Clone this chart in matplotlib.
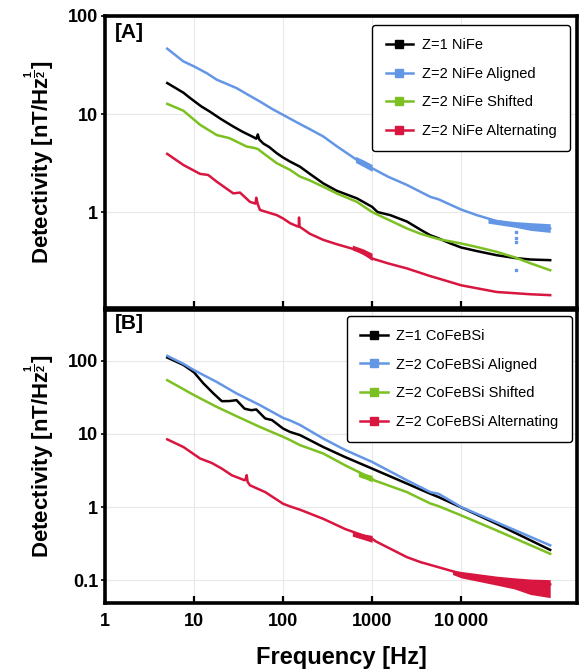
import matplotlib
matplotlib.use("Agg")
import matplotlib.pyplot as plt
from matplotlib.lines import Line2D
from matplotlib.ticker import FixedLocator, FuncFormatter, NullLocator

plt.rcParams['font.family'] = ['Liberation Sans', 'DejaVu Sans']
plt.rcParams['mathtext.fontset'] = 'custom'
plt.rcParams['mathtext.rm'] = 'Liberation Sans'
plt.rcParams['mathtext.bf'] = 'Liberation Sans:bold'

# ---------------- data: panel A (NiFe) ----------------
a_black_f = [5, 7.6, 9, 12, 15, 20, 27.6, 35, 45, 50, 52, 54, 60, 70, 85, 100, 120, 155, 200, 283, 400, 675, 1000, 1150,
             1600, 2460, 3500, 4500, 5560, 7500, 10000, 15000, 25000, 40000, 60000, 100000]
a_black_v = [20.7, 16.5, 14.6, 12.0, 10.6, 8.9, 7.45, 6.6, 5.9, 5.6, 6.2, 5.5, 5.0, 4.6, 3.98, 3.6, 3.27, 2.9, 2.45, 1.96,
             1.65, 1.38, 1.13, 1.0, 0.93, 0.80, 0.66, 0.58, 0.54, 0.48, 0.435, 0.40, 0.363, 0.34, 0.328, 0.323]

a_blue_f = [5, 7.6, 10, 14, 18, 30, 40, 55, 75, 100, 155, 200, 283, 400, 675, 1000, 1500, 2460, 4500, 5560, 10000,
            15000, 25000, 40000, 60000, 100000]
a_blue_v = [46.4, 34.4, 30.6, 26.0, 22.4, 18.4, 15.8, 13.4, 11.3, 9.8, 7.9, 7.0, 5.9, 4.7, 3.4, 2.8, 2.3, 1.89, 1.43,
            1.35, 1.06, 0.93, 0.81, 0.75, 0.72, 0.68]
a_blue_drop_f = [41500, 41500, 41500, 41500]
a_blue_drop_v = [0.63, 0.55, 0.50, 0.255]

a_green_f = [5, 7.6, 11.7, 18, 25, 39, 48, 52, 60, 85, 120, 155, 200, 283, 400, 675, 1000, 1500, 2460, 3500, 4500,
             5560, 10000, 15000, 25000, 40000, 60000, 100000]
a_green_v = [12.7, 10.8, 7.76, 6.1, 5.67, 4.66, 4.5, 4.4, 3.98, 3.15, 2.69, 2.3, 2.1, 1.81, 1.55, 1.27, 1.0, 0.84, 0.68,
             0.60, 0.56, 0.53, 0.478, 0.44, 0.393, 0.345, 0.30, 0.255]

a_red_f = [5, 7.6, 11.7, 14.4, 18, 27.6, 32.8, 42.5, 49, 50, 52, 55, 85, 100, 120, 142, 150, 151, 153, 200, 283, 400,
           675, 1000, 1500, 2460, 4500, 5560, 10000, 25000, 60000, 100000]
a_red_v = [3.92, 3.02, 2.45, 2.39, 2.04, 1.55, 1.58, 1.27, 1.22, 1.4, 1.2, 1.05, 0.93, 0.86, 0.77, 0.72, 0.71, 0.88,
           0.71, 0.6, 0.52, 0.47, 0.41, 0.336, 0.30, 0.266, 0.222, 0.21, 0.179, 0.153, 0.145, 0.142]

# noisy stretches of the spectra (band envelopes)
a_blue_band_f = [650, 800, 1000]
a_blue_band_lo = [3.2, 2.9, 2.6]
a_blue_band_hi = [3.7, 3.4, 3.05]
a_blue_hf_f = [20000, 40000, 60000, 100000]
a_blue_hf_lo = [0.77, 0.70, 0.65, 0.62]
a_blue_hf_hi = [0.86, 0.80, 0.78, 0.76]
a_red_band_f = [600, 800, 1000]
a_red_band_lo = [0.41, 0.37, 0.32]
a_red_band_hi = [0.46, 0.42, 0.38]

# ---------------- data: panel B (CoFeBSi) ----------------
b_black_f = [5, 7.6, 10, 12.7, 16.5, 20.5, 25, 30, 37, 44, 50, 63, 75, 100, 120, 155, 283, 500, 1000, 2460, 4500,
             5560, 10000, 25000, 100000]
b_black_v = [110, 87, 69, 49, 35.6, 27.9, 28, 28.8, 22, 21, 21.5, 16.2, 15.4, 11.8, 10.6, 9.6, 6.6, 4.8, 3.35, 2.09,
             1.52, 1.37, 0.99, 0.59, 0.26]

b_blue_f = [5, 7.6, 10, 18, 30, 55, 100, 120, 155, 283, 500, 1000, 2460, 4500, 5560, 10000, 25000, 100000]
b_blue_v = [116, 90, 74, 51, 35.6, 24.6, 16.5, 15.2, 13.2, 8.6, 6.0, 4.13, 2.32, 1.6, 1.52, 1.0, 0.62, 0.30]

b_green_f = [5, 10, 18, 30, 55, 100, 120, 155, 283, 500, 1000, 1050, 2460, 4500, 5560, 10000, 25000, 100000]
b_green_v = [54, 33.7, 23.3, 17.4, 12.4, 9.1, 8.2, 7.0, 5.38, 3.7, 2.45, 2.32, 1.6, 1.12, 1.03, 0.77, 0.48, 0.23]

b_red_f = [5, 7.6, 11.7, 15.8, 20.5, 26.5, 37, 38, 39, 40, 42.5, 63, 100, 120, 155, 283, 500, 1000, 1100, 2460, 3500,
           5560, 10000, 25000, 60000, 100000]
b_red_v = [8.4, 6.6, 4.6, 4.0, 3.35, 2.72, 2.32, 2.4, 2.72, 2.2, 1.98, 1.6, 1.11, 1.02, 0.92, 0.69, 0.5, 0.37, 0.34,
           0.207, 0.177, 0.151, 0.123, 0.1, 0.09, 0.088]

b_green_band_f = [700, 850, 1000]
b_green_band_lo = [2.6, 2.4, 2.2]
b_green_band_hi = [3.1, 2.85, 2.7]
b_red_band_f = [600, 800, 1000]
b_red_band_lo = [0.40, 0.36, 0.33]
b_red_band_hi = [0.47, 0.43, 0.41]
b_red_hf_f = [8000, 10000, 25000, 40000, 60000, 100000]
b_red_hf_lo = [0.12, 0.108, 0.086, 0.076, 0.064, 0.058]
b_red_hf_hi = [0.138, 0.132, 0.114, 0.108, 0.104, 0.102]

labels_a = ["Z=1 NiFe", "Z=2 NiFe Aligned", "Z=2 NiFe Shifted", "Z=2 NiFe Alternating"]
labels_b = ["Z=1 CoFeBSi", "Z=2 CoFeBSi Aligned", "Z=2 CoFeBSi Shifted", "Z=2 CoFeBSi Alternating"]

x_ticks = [1, 10, 100, 1000, 10000]
y_ticks_a = [1, 10, 100]
y_ticks_b = [0.1, 1, 10, 100]

C_BLACK = "#000000"
C_BLUE = "#6496e6"
C_GREEN = "#7cc021"
C_RED = "#d8163f"
colors = [C_BLACK, C_BLUE, C_GREEN, C_RED]

W, H = 579, 671
fig = plt.figure(figsize=(W / 100, H / 100), dpi=100)
L, R = 105 / W, 577 / W
ax_a = fig.add_axes([L, 1 - 308 / H, R - L, (308 - 16) / H])
ax_b = fig.add_axes([L, 1 - 603 / H, R - L, (603 - 310) / H])

LW = 1.8


def fmt_num(v, _pos=None):
    if v >= 10000:
        return f"{int(round(v)):,}".replace(",", "\u2009")
    if v >= 1:
        return f"{int(round(v))}"
    return f"{v:g}"


def style(ax, yticks, ylim, show_xlabels):
    ax.set_xscale("log")
    ax.set_yscale("log")
    ax.set_xlim(1, 2.0e5)
    ax.set_ylim(*ylim)
    ax.xaxis.set_major_locator(FixedLocator(x_ticks))
    ax.xaxis.set_minor_locator(NullLocator())
    ax.yaxis.set_major_locator(FixedLocator(yticks))
    ax.yaxis.set_minor_locator(NullLocator())
    ax.yaxis.set_major_formatter(FuncFormatter(fmt_num))
    if show_xlabels:
        ax.xaxis.set_major_formatter(FuncFormatter(fmt_num))
    else:
        ax.set_xticklabels([])
    ax.grid(True, color="#e8e8e8", lw=0.8, zorder=0)
    ax.set_axisbelow(True)
    for sp in ax.spines.values():
        sp.set_linewidth(2.6)
        sp.set_color("black")
    ax.tick_params(axis="x", direction="in", length=5, width=1.6, pad=7, top=False)
    ax.tick_params(axis="y", direction="out", length=3, width=1.2, pad=2)
    for t in ax.get_xticklabels() + ax.get_yticklabels():
        t.set_fontsize(13)
        t.set_fontweight("bold")
    ax.set_ylabel(r"Detectivity [nT/Hz$^{\mathbf{\frac{1}{2}}}$]", fontsize=16, fontweight="bold", labelpad=8)


# panel A curves
for f, v, c in [(a_black_f, a_black_v, C_BLACK), (a_blue_f, a_blue_v, C_BLUE),
                (a_green_f, a_green_v, C_GREEN), (a_red_f, a_red_v, C_RED)]:
    ax_a.plot(f, v, color=c, lw=LW, zorder=3)
ax_a.fill_between(a_blue_band_f, a_blue_band_lo, a_blue_band_hi, color=C_BLUE, lw=0, zorder=3)
ax_a.fill_between(a_blue_hf_f, a_blue_hf_lo, a_blue_hf_hi, color=C_BLUE, lw=0, zorder=3)
ax_a.fill_between(a_red_band_f, a_red_band_lo, a_red_band_hi, color=C_RED, lw=0, zorder=3)
ax_a.plot(a_blue_drop_f, a_blue_drop_v, ls="none", marker="s", ms=1.8, color=C_BLUE, zorder=3)

# panel B curves
for f, v, c in [(b_black_f, b_black_v, C_BLACK), (b_blue_f, b_blue_v, C_BLUE),
                (b_green_f, b_green_v, C_GREEN), (b_red_f, b_red_v, C_RED)]:
    ax_b.plot(f, v, color=c, lw=LW, zorder=3)
ax_b.fill_between(b_green_band_f, b_green_band_lo, b_green_band_hi, color=C_GREEN, lw=0, zorder=3)
ax_b.fill_between(b_red_band_f, b_red_band_lo, b_red_band_hi, color=C_RED, lw=0, zorder=3)
ax_b.fill_between(b_red_hf_f, b_red_hf_lo, b_red_hf_hi, color=C_RED, lw=0, zorder=3)

style(ax_a, y_ticks_a, (0.105, 100), False)
style(ax_b, y_ticks_b, (0.049, 490), True)
ax_b.set_xlabel("Frequency [Hz]", fontsize=17, fontweight="bold", labelpad=12)

ax_a.text(0.02, 0.975, "[A]", transform=ax_a.transAxes, fontsize=15, fontweight="bold", va="top", ha="left")
ax_b.text(0.02, 0.985, "[B]", transform=ax_b.transAxes, fontsize=15, fontweight="bold", va="top", ha="left")


def make_legend(ax, labels, anchor):
    handles = [Line2D([], [], color=c, lw=1.8, marker="s", ms=6) for c in colors]
    leg = ax.legend(handles, labels, loc="upper right", bbox_to_anchor=anchor, fontsize=10.5,
                    frameon=True, fancybox=True, framealpha=1, edgecolor="black",
                    handlelength=1.9, handletextpad=0.6, labelspacing=1.0, borderpad=0.9,
                    borderaxespad=0)
    leg.get_frame().set_linewidth(1.0)
    leg.set_zorder(5)
    return leg


make_legend(ax_a, labels_a, (0.985, 0.969))
make_legend(ax_b, labels_b, (0.989, 0.980))

fig.savefig("out.png", dpi=100)
